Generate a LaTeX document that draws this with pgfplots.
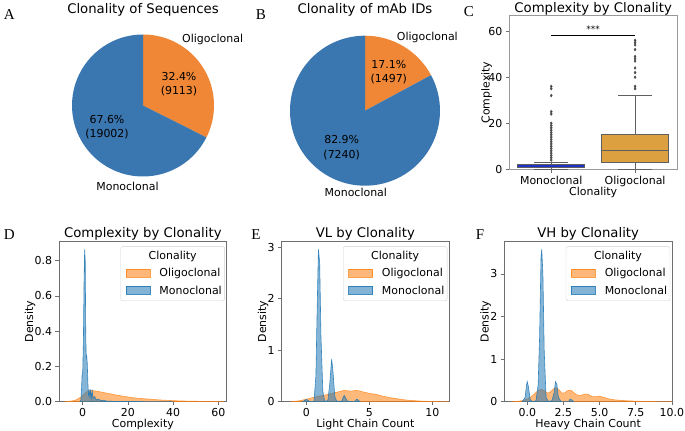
\documentclass[border=0pt]{standalone}
\usepackage{pgfplots}
\pgfplotsset{compat=1.18}
\usepgfplotslibrary{statistics}
\usepackage{fontspec}
\setmainfont{DejaVu Sans}
\newfontfamily\letterfont{Liberation Serif}
\definecolor{pieblue}{RGB}{58,118,175}
\definecolor{pieorange}{RGB}{239,135,54}
\definecolor{kdeblue}{RGB}{31,119,180}
\definecolor{kdeorange}{RGB}{255,127,14}
\definecolor{monobox}{RGB}{32,50,200}
\definecolor{oligobox}{RGB}{220,160,64}
\definecolor{framegray}{RGB}{110,110,110}
\definecolor{boxedge}{RGB}{95,95,95}
\newcommand{\fs}[1]{\fontsize{#1}{#1}\selectfont}
\edef\angA{\fpeval{360*9113/(9113+19002)}}
\edef\angB{\fpeval{360*1497/(1497+7240)}}

\pgfplotsset{
  panel/.style={scale only axis, width=167.7bp, anchor=south west,
    axis line style={framegray, line width=0.6bp},
    tick style={framegray, line width=0.6bp},
    tick align=outside, major tick length=3.5bp, tick pos=left,
    ticklabel style={font=\fs{11}},
    label style={font=\fs{11}},
    title style={font=\fs{13.3}, at={(axis description cs:0.5,1)}, anchor=base, yshift=-6pt},
    xlabel style={at={(axis description cs:0.5,-0.16)}, anchor=base},
    enlargelimits=false},
  pie/.style={scale only axis, anchor=south west, hide axis, clip=false,
    xmin=-1, xmax=1, ymin=-1, ymax=1},
  kdeO/.style={fill=kdeorange, fill opacity=0.55, draw=kdeorange, draw opacity=0.75, line width=0.6bp},
  kdeB/.style={fill=kdeblue, fill opacity=0.55, draw=kdeblue, draw opacity=0.85, line width=0.6bp},
}

\newcommand{\kdelegend}{%
  \draw[black!18, fill=white, rounded corners=2bp] (axis description cs:0.368,0.628) rectangle (axis description cs:0.988,0.965);
  \node[font=\fs{11}, inner sep=0pt] at (axis description cs:0.678,0.902) {Clonality};
  \fill[kdeorange, fill opacity=0.55] (axis description cs:0.40,0.774) rectangle (axis description cs:0.543,0.824);
  \draw[kdeorange, opacity=0.75, line width=0.6bp] (axis description cs:0.40,0.774) rectangle (axis description cs:0.543,0.824);
  \node[font=\fs{11}, anchor=west, inner sep=0pt] at (axis description cs:0.598,0.799) {Oligoclonal};
  \fill[kdeblue, fill opacity=0.55] (axis description cs:0.40,0.670) rectangle (axis description cs:0.543,0.720);
  \draw[kdeblue, opacity=0.85, line width=0.6bp] (axis description cs:0.40,0.670) rectangle (axis description cs:0.543,0.720);
  \node[font=\fs{11}, anchor=west, inner sep=0pt] at (axis description cs:0.598,0.695) {Monoclonal};
}

\begin{document}
\begin{tikzpicture}
\path[use as bounding box] (0,0) rectangle (685bp,431bp);

% ---------- panel letters ----------
\node[font=\letterfont\fs{15.1}, anchor=base, inner sep=0pt] at (9.3bp,411.7bp) {A};
\node[font=\letterfont\fs{15.1}, anchor=base, inner sep=0pt] at (261bp,411.7bp) {B};
\node[font=\letterfont\fs{15.1}, anchor=base, inner sep=0pt] at (469bp,414.3bp) {C};
\node[font=\letterfont\fs{15.1}, anchor=base, inner sep=0pt] at (9.3bp,191.7bp) {D};
\node[font=\letterfont\fs{15.1}, anchor=base, inner sep=0pt] at (256bp,191.7bp) {E};
\node[font=\letterfont\fs{15.1}, anchor=base, inner sep=0pt] at (480bp,191.7bp) {F};

% ---------- A: pie ----------
\begin{axis}[pie, at={(72bp,254.5bp)}, width=142bp, height=142bp]
\addplot[draw=none] coordinates {(0,0)};
\fill[pieorange] (axis cs:0,0) -- (axis cs:0,1) arc[start angle=90, delta angle=-\angA, radius=71bp] -- cycle;
\fill[pieblue] (axis cs:0,0) -- (axis cs:0,1) arc[start angle=90, delta angle={360-\angA}, radius=71bp] -- cycle;
\end{axis}
\node[font=\fs{13.3}, anchor=base, inner sep=0pt] at (143bp,417.3bp) {Clonality of Sequences};
\node[font=\fs{11}, anchor=base west, inner sep=0pt] at (182bp,388bp) {Oligoclonal};
\node[font=\fs{11}, anchor=base, inner sep=0pt] at (127.5bp,240.3bp) {Monoclonal};
\node[font=\fs{11}, anchor=base, inner sep=0pt] at (179bp,350.3bp) {32.4\%};
\node[font=\fs{11}, anchor=base, inner sep=0pt] at (179bp,336.3bp) {(9113)};
\node[font=\fs{11}, anchor=base, inner sep=0pt] at (107bp,307bp) {67.6\%};
\node[font=\fs{11}, anchor=base, inner sep=0pt] at (107bp,293bp) {(19002)};

% ---------- B: pie ----------
\begin{axis}[pie, at={(290bp,245.3bp)}, width=150bp, height=150bp]
\addplot[draw=none] coordinates {(0,0)};
\fill[pieorange] (axis cs:0,0) -- (axis cs:0,1) arc[start angle=90, delta angle=-\angB, radius=75bp] -- cycle;
\fill[pieblue] (axis cs:0,0) -- (axis cs:0,1) arc[start angle=90, delta angle={360-\angB}, radius=75bp] -- cycle;
\end{axis}
\node[font=\fs{13.3}, anchor=base, inner sep=0pt] at (365bp,417.3bp) {Clonality of mAb IDs};
\node[font=\fs{11}, anchor=base west, inner sep=0pt] at (396.7bp,390.3bp) {Oligoclonal};
\node[font=\fs{11}, anchor=base, inner sep=0pt] at (355.8bp,234.7bp) {Monoclonal};
\node[font=\fs{11}, anchor=base, inner sep=0pt] at (388.8bp,362bp) {17.1\%};
\node[font=\fs{11}, anchor=base, inner sep=0pt] at (388.8bp,348.7bp) {(1497)};
\node[font=\fs{11}, anchor=base, inner sep=0pt] at (341.7bp,287.7bp) {82.9\%};
\node[font=\fs{11}, anchor=base, inner sep=0pt] at (341.7bp,272bp) {(7240)};

% ---------- C: box plot ----------
\begin{axis}[panel, at={(509.3bp,261.5bp)}, height=154bp,
  axis line style={black!40},
  title style={yshift=2.6bp},
  xmin=-0.5, xmax=1.5, ymin=-0.1, ymax=66.8,
  xtick={0,1}, xticklabels={Monoclonal,Oligoclonal},
  ytick={0,20,40,60}, yticklabels={0,20,40,60},
  title={Complexity by Clonality}, xlabel={Clonality}, ylabel={Complexity},
  ylabel style={at={(axis description cs:-0.136,0.5)}, anchor=center},
  xlabel style={at={(axis description cs:0.5,-0.166)}, anchor=base},
  boxplot/draw direction=y,
  boxplot/every median/.style={draw=boxedge, line width=0.9bp},
  boxplot/every whisker/.style={draw=boxedge, line width=0.7bp},
  boxplot/every box/.style={draw=boxedge, line width=0.7bp}]
\addplot[boxplot prepared={draw position=0, lower whisker=0, lower quartile=1,
  median=1, upper quartile=2, upper whisker=3, box extend=0.8, whisker extend=0.4},
  draw=boxedge, fill=monobox, line width=0.7bp] coordinates {};
\addplot[boxplot prepared={draw position=1, lower whisker=0, lower quartile=3,
  median=8, upper quartile=15, upper whisker=32, box extend=0.8, whisker extend=0.4},
  draw=boxedge, fill=oligobox, line width=0.7bp] coordinates {};
\addplot[only marks, mark=diamond*, mark size=1.4bp, color=black!70] coordinates {
  (0,4) (0,5) (0,6) (0,7) (0,8) (0,9) (0,10) (0,11) (0,12) (0,13) (0,14) (0,15)
  (0,16) (0,17) (0,18) (0,19) (0,20) (0,24) (0,25) (0,32) (0,35) (0,36)};
\addplot[only marks, mark=diamond*, mark size=1.4bp, color=black!70] coordinates {
  (1,35) (1,36) (1,40) (1,42) (1,44) (1,47) (1,48) (1,49) (1,52) (1,54) (1,55) (1,56)};
\addplot[black, line width=0.9bp] coordinates {(0,58.3) (1,58.3)};
\node[font=\fs{9}, anchor=base] at (axis cs:0.5,59.3) {***};
\end{axis}

% ---------- D ----------
\begin{axis}[panel, at={(59bp,29.3bp)}, height=160.7bp,
  title style={yshift=3.5bp},
  xmin=-10.5, xmax=63.7, ymin=0, ymax=0.912,
  xtick={0,20,40,60}, xticklabels={0,20,40,60},
  ytick={0,0.2,0.4,0.6,0.8}, yticklabels={0.0,0.2,0.4,0.6,0.8},
  title={Complexity by Clonality}, xlabel={Complexity}, ylabel={Density},
  ylabel style={at={(axis description cs:-0.173,0.5)}, anchor=center}]
\addplot[kdeO] coordinates {(-8,0) (-6,0.002) (-4,0.006) (-3,0.010) (-2,0.017) (-1,0.025) (0,0.035) (1,0.048) (2,0.058) (3,0.063)
  (4,0.064) (5,0.062) (6,0.060) (7,0.058) (8,0.055) (10,0.050) (12,0.045) (14,0.040) (16,0.035) (18,0.031)
  (20,0.027) (22,0.023) (25,0.019) (28,0.016) (31,0.013) (34,0.010) (37,0.008) (40,0.006) (44,0.004)
  (48,0.003) (52,0.002) (56,0.0015) (60,0.001) (62.5,0)} \closedcycle;
\addplot[kdeB] coordinates {(-1.2,0) (-0.8,0.01) (-0.5,0.08) (-0.3,0.15) (0,0.17) (0.3,0.35) (0.6,0.7) (0.85,0.865)
  (1.1,0.8) (1.3,0.45) (1.5,0.25) (1.75,0.26) (2.0,0.22) (2.3,0.1) (2.6,0.03) (2.9,0.06) (3.2,0.03)
  (3.5,0.07) (3.8,0.02) (4.2,0.06) (4.6,0.02) (5.2,0.03) (6,0.01) (7,0.015) (8,0.006) (9,0.008)
  (11,0.003) (14,0.002) (18,0.001) (24,0.001) (30,0.0005) (37,0.0003) (40,0)} \closedcycle;
\kdelegend
\end{axis}

% ---------- E ----------
\begin{axis}[panel, at={(281.5bp,29.3bp)}, height=160.7bp,
  title style={yshift=3.5bp},
  xmin=-1.98, xmax=11.33, ymin=0, ymax=3.122,
  xtick={0,5,10}, xticklabels={0,5,10},
  ytick={0,1,2,3}, yticklabels={0,1,2,3},
  title={VL by Clonality}, xlabel={Light Chain Count}, ylabel={Density},
  ylabel style={at={(axis description cs:-0.109,0.5)}, anchor=center}]
\addplot[kdeO] coordinates {(-1.3,0) (-1.0,0.005) (-0.5,0.02) (0,0.05) (0.5,0.08) (1,0.11) (1.5,0.13) (2,0.16)
  (2.5,0.19) (3,0.22) (3.5,0.205) (4,0.22) (4.5,0.19) (5,0.16) (5.5,0.145) (6,0.11) (6.5,0.085)
  (7,0.065) (7.5,0.045) (8,0.03) (8.5,0.02) (9,0.013) (9.5,0.008) (10,0.005) (10.5,0.003) (11,0.001) (11.3,0)} \closedcycle;
\addplot[kdeB] coordinates {(-0.3,0) (-0.1,0.03) (0,0.045) (0.1,0.03) (0.3,0) (0.6,0.01) (0.75,0.5) (0.85,1.8)
  (0.95,2.96) (1.05,2.7) (1.15,1.3) (1.3,0.2) (1.45,0.01) (1.7,0.02) (1.85,0.35) (2.0,0.83) (2.1,0.6)
  (2.25,0.1) (2.4,0.01) (2.8,0.01) (2.9,0.08) (3.0,0.12) (3.1,0.08) (3.25,0.01) (3.8,0) (3.9,0.03)
  (4.0,0.05) (4.1,0.03) (4.25,0)} \closedcycle;
\kdelegend
\end{axis}

% ---------- F ----------
\begin{axis}[panel, at={(504.3bp,29.3bp)}, height=160.7bp,
  title style={yshift=3.5bp},
  xmin=-1.59, xmax=10.01, ymin=0, ymax=3.775,
  xtick={0,2.5,5,7.5,10}, xticklabels={0.0,2.5,5.0,7.5,10.0},
  ytick={0,1,2,3}, yticklabels={0,1,2,3},
  title={VH by Clonality}, xlabel={Heavy Chain Count}, ylabel={Density},
  ylabel style={at={(axis description cs:-0.111,0.5)}, anchor=center}]
\addplot[kdeO] coordinates {(-1.1,0) (-0.8,0.005) (-0.5,0.015) (-0.2,0.04) (0,0.06) (0.2,0.10) (0.4,0.15) (0.6,0.22)
  (0.8,0.27) (1.0,0.29) (1.2,0.25) (1.4,0.20) (1.6,0.23) (1.8,0.30) (2.0,0.33) (2.2,0.27) (2.4,0.20)
  (2.6,0.21) (2.8,0.26) (3.0,0.27) (3.2,0.22) (3.4,0.16) (3.7,0.15) (4.0,0.18) (4.2,0.17) (4.5,0.12)
  (4.8,0.12) (5.0,0.13) (5.3,0.10) (5.6,0.07) (6.0,0.045) (6.5,0.03) (7.0,0.02) (7.5,0.013) (8,0.008)
  (8.5,0.005) (9,0.003) (9.5,0.001) (10,0)} \closedcycle;
\addplot[kdeB] coordinates {(-0.35,0) (-0.15,0.1) (-0.05,0.4) (0,0.47) (0.08,0.35) (0.2,0.05) (0.35,0) (0.6,0.02)
  (0.75,0.4) (0.85,1.5) (0.95,3.4) (1.0,3.58) (1.08,3.0) (1.17,1.2) (1.3,0.1) (1.45,0.01) (1.7,0.02)
  (1.85,0.2) (1.95,0.47) (2.05,0.4) (2.15,0.1) (2.35,0) (2.85,0) (2.95,0.06) (3.05,0.05) (3.2,0)} \closedcycle;
\kdelegend
\end{axis}
\end{tikzpicture}
\end{document}
